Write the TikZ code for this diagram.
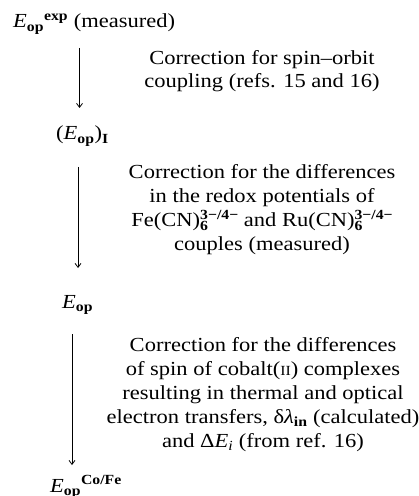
\documentclass[tikz,border=0pt]{standalone}
\usepackage{fontspec}
\setmainfont{Liberation Serif}[FakeStretch=1.13]
\usepackage{tikz}
\usetikzlibrary{arrows.meta}

\newcommand{\Eop}{\textit{E}\textsubscript{\textbf{op}}}
\newcommand{\smallbf}[1]{{\fontsize{14}{14}\selectfont\bfseries #1}}
\newcommand{\cnsix}{(CN)\rlap{\raisebox{-4.5bp}{\smallbf{6}}}\raisebox{7bp}{\smallbf{3−/4−}}}
\newcommand{\romtwo}{{\fontsize{14}{14}\selectfont II}}

\begin{document}
\begin{tikzpicture}[x=1bp, y=-1bp, >={Straight Barb[length=4bp, width=6bp]},
  qty/.style={anchor=base west, inner sep=0pt, font=\fontsize{20}{24}\selectfont},
  corr/.style={anchor=base, inner sep=0pt, align=center, font=\fontsize{20}{24}\selectfont},
  step arrow/.style={->, line width=0.8bp}]

\useasboundingbox (0,0) rectangle (418,496);

% Quantities
\node[qty] (eexp) at (13,28) {\Eop\textsuperscript{\textbf{exp}} (measured)};
\node[qty] (eopI) at (56,140) {(\Eop)\textsubscript{\textbf{I}}};
\node[qty] (eop) at (62,308) {\Eop};
\node[qty] (ecofe) at (50,492) {\Eop\textsuperscript{\textbf{Co/Fe}}};

% Arrow ends
\coordinate (a1top) at (79.5,48);
\coordinate (a1bot) at (79.5,108);
\coordinate (a2top) at (78,167);
\coordinate (a2bot) at (78,268);
\coordinate (a3top) at (72,334);
\coordinate (a3bot) at (72,465);

% Correction steps (base = last line)
\draw[step arrow] (a1top) -- (a1bot);
\node[corr] (corrso) at (262,88) {Correction for spin–orbit\\ coupling (refs. 15 and 16)};

\draw[step arrow] (a2top) -- (a2bot);
\node[corr] (corrredox) at (262,250) {Correction for the differences\\in the redox potentials of\\Fe\cnsix{} and Ru\cnsix\\couples (measured)};

\draw[step arrow] (a3top) -- (a3bot);
\node[corr] (corrspin) at (263,447) {Correction for the differences\\of spin of cobalt(\romtwo) complexes\\resulting in thermal and optical\\electron transfers, δ\textit{λ}\textsubscript{\textbf{in}} (calculated)\\and Δ\textit{E}\textsubscript{\textit{i}} (from ref. 16)};

\end{tikzpicture}
\end{document}
